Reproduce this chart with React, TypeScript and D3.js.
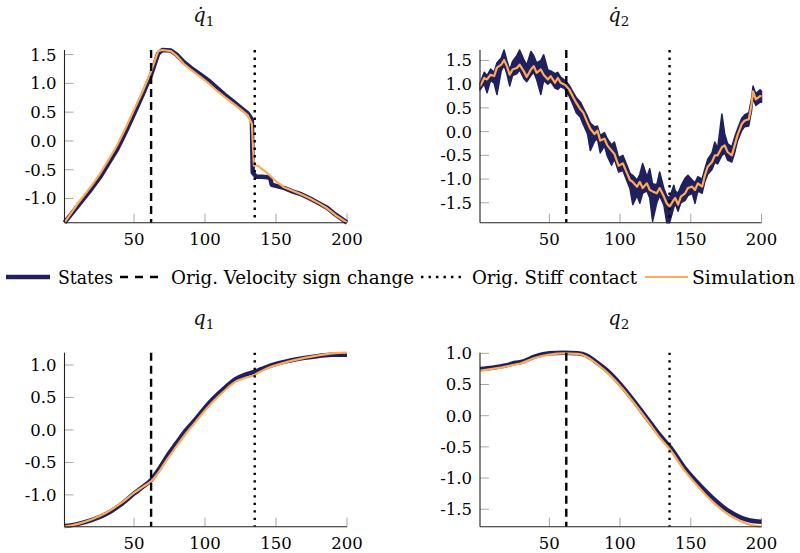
import React, { useEffect, useRef } from 'react';
import * as d3 from 'd3';

// time steps at which the original events happened
const signChangeStep = 62;
const stiffContactStep = 135;
const xTicks = [50, 100, 150, 200];

// q̇1
const dq1StateSteps = [1, 10, 20, 26, 32, 38, 44, 50, 56, 62, 67, 70, 76, 80, 85, 90, 97, 103, 108, 114, 120, 126, 130, 132, 133, 133.6, 136, 140, 144, 146, 147, 150, 156, 162, 168, 174, 180, 186, 192, 200];
const dq1States = [-1.42, -1.14, -0.83, -0.63, -0.39, -0.15, 0.15, 0.47, 0.8, 1.15, 1.52, 1.58, 1.57, 1.5, 1.37, 1.27, 1.15, 1.04, 0.93, 0.8, 0.68, 0.56, 0.48, 0.41, 0.36, -0.55, -0.62, -0.62, -0.63, -0.65, -0.76, -0.78, -0.82, -0.88, -0.93, -1.0, -1.08, -1.16, -1.28, -1.42];
const dq1SimSteps = [1, 10, 20, 26, 32, 38, 44, 50, 56, 62, 67, 70, 76, 80, 85, 90, 97, 103, 108, 114, 120, 126, 130, 133, 134.4, 137, 143, 150, 156, 162, 168, 174, 180, 186, 192, 200];
const dq1Sim = [-1.42, -1.1, -0.78, -0.57, -0.33, -0.08, 0.22, 0.54, 0.86, 1.21, 1.56, 1.58, 1.56, 1.48, 1.34, 1.24, 1.11, 0.99, 0.88, 0.76, 0.65, 0.53, 0.45, 0.3, -0.43, -0.43, -0.54, -0.7, -0.81, -0.87, -0.93, -1.0, -1.08, -1.17, -1.29, -1.42];

// q̇2
const dq2Steps = [1, 4, 6, 8.5, 11, 13, 16, 18, 20, 22, 24, 27, 29, 32, 34, 37, 39, 41, 44, 46, 49, 51, 54, 56, 58, 61, 64, 67, 69, 72, 74, 77, 79, 82, 84, 86, 89, 91, 94, 96, 99, 102, 105, 107, 109, 112, 114, 116, 119, 121, 123, 126, 128, 131, 133, 135, 138, 139, 141, 143, 146, 148, 151, 153, 155, 158, 160, 162, 165, 167, 169, 172, 174, 176, 179, 181, 183, 186, 188, 191, 193, 194, 196, 199, 200];
const dq2Sim = [0.95, 1.13, 1.1, 1.2, 1.17, 1.35, 1.41, 1.51, 1.38, 1.2, 1.31, 1.34, 1.41, 1.27, 1.15, 1.31, 1.38, 1.24, 1.31, 1.2, 1.1, 1.17, 1.03, 1.13, 1.03, 0.99, 0.89, 0.72, 0.61, 0.47, 0.4, 0.19, 0.06, -0.05, 0.02, -0.19, -0.15, -0.29, -0.4, -0.47, -0.72, -0.67, -0.88, -1.02, -1.06, -1.16, -1.06, -1.19, -1.09, -1.23, -1.26, -1.3, -1.19, -1.37, -1.51, -1.58, -1.44, -1.4, -1.54, -1.37, -1.3, -1.19, -1.16, -1.23, -1.09, -1.16, -0.92, -0.74, -0.64, -0.5, -0.5, -0.33, -0.29, -0.43, -0.5, -0.29, -0.08, 0.16, 0.23, 0.26, 0.58, 0.85, 0.68, 0.75, 0.74];
const dq2StatesHigh = [1.02, 1.25, 1.18, 1.32, 1.25, 1.45, 1.55, 1.72, 1.5, 1.3, 1.48, 1.6, 1.72, 1.52, 1.4, 1.69, 1.6, 1.45, 1.5, 1.62, 1.3, 1.28, 1.22, 1.25, 1.15, 1.08, 0.98, 0.82, 0.72, 0.62, 0.5, 0.32, 0.18, 0.1, 0.12, -0.08, -0.02, -0.15, -0.28, -0.22, -0.55, -0.5, -0.72, -0.88, -0.92, -1.02, -0.9, -0.67, -0.95, -0.78, -1.1, -1.12, -0.85, -1.2, -1.35, -1.4, -1.13, -1.25, -1.3, -1.15, -0.98, -0.92, -1.02, -1.08, -0.95, -1.0, -0.78, -0.58, -0.45, -0.22, -0.35, 0.37, -0.05, -0.25, -0.32, -0.12, 0.05, 0.28, 0.35, 0.4, 0.7, 0.96, 0.8, 0.88, 0.85];
const dq2StatesLow = [0.88, 1.0, 0.82, 1.08, 1.02, 0.78, 1.28, 1.4, 1.22, 0.96, 1.18, 1.22, 1.3, 1.12, 1.05, 1.18, 1.25, 1.1, 0.78, 1.08, 1.0, 1.05, 0.92, 0.89, 0.95, 0.9, 0.75, 0.55, 0.4, 0.3, 0.15, -0.05, -0.4, -0.2, -0.15, -0.45, -0.3, -0.52, -0.71, -0.58, -0.85, -0.82, -1.05, -1.2, -1.54, -1.35, -1.51, -1.3, -1.25, -1.4, -1.89, -1.5, -1.35, -1.55, -1.92, -1.92, -1.6, -1.52, -1.68, -1.5, -1.45, -1.35, -1.3, -1.51, -1.25, -1.3, -1.05, -0.9, -0.8, -0.65, -0.68, -0.5, -0.45, -0.6, -0.64, -0.45, -0.2, 0.02, 0.1, 0.12, 0.45, 0.7, 0.55, 0.62, 0.62];

// q1
const q1Steps = [1, 10, 20, 30, 40, 50, 56, 62, 68, 74, 80, 86, 92, 98, 104, 110, 116, 122, 128, 134, 140, 146, 152, 160, 170, 180, 190, 200];
const q1States = [-1.48, -1.45, -1.39, -1.3, -1.16, -0.98, -0.88, -0.77, -0.59, -0.38, -0.2, -0.02, 0.13, 0.29, 0.44, 0.57, 0.69, 0.79, 0.85, 0.89, 0.94, 0.99, 1.03, 1.07, 1.11, 1.14, 1.16, 1.16];
const q1Sim = [-1.49, -1.45, -1.38, -1.28, -1.14, -0.97, -0.88, -0.79, -0.63, -0.43, -0.25, -0.07, 0.09, 0.25, 0.4, 0.53, 0.65, 0.75, 0.8, 0.84, 0.91, 0.97, 1.01, 1.06, 1.11, 1.15, 1.18, 1.19];

// q2
const q2Steps = [1, 10, 20, 26, 30, 40, 50, 60, 70, 76, 82, 90, 100, 110, 120, 128, 136, 145, 155, 165, 175, 185, 192, 200];
const q2States = [0.75, 0.77, 0.81, 0.85, 0.86, 0.95, 1.0, 1.01, 1.0, 0.97, 0.88, 0.74, 0.51, 0.23, -0.07, -0.31, -0.52, -0.82, -1.08, -1.31, -1.5, -1.63, -1.68, -1.7];
const q2Sim = [0.72, 0.75, 0.79, 0.82, 0.84, 0.93, 0.98, 1.0, 0.99, 0.95, 0.86, 0.71, 0.48, 0.2, -0.1, -0.35, -0.56, -0.86, -1.13, -1.37, -1.56, -1.69, -1.75, -1.78];

const legendLabels = ['States', 'Orig. Velocity sign change', 'Orig. Stiff contact', 'Simulation'];

const NAVY = '#20205f';
const ORANGE = '#ffaa55';
const FONT = "'DejaVu Serif', serif";

interface Panel {
  dot: boolean;
  sub: string;
  left: number;
  right: number;
  top: number;
  bottom: number;
  titleY: number;
  smooth: boolean;
  yTicks: number[];
  stateSteps: number[];
  states: number[];
  stateLow?: number[];
  simSteps: number[];
  sim: number[];
}

const panels: Panel[] = [
  { dot: true, sub: '1', left: 64.5, right: 347, top: 50, bottom: 222.7, titleY: 22, smooth: false, yTicks: [-1, -0.5, 0, 0.5, 1, 1.5],
    stateSteps: dq1StateSteps, states: dq1States, simSteps: dq1SimSteps, sim: dq1Sim },
  { dot: true, sub: '2', left: 480, right: 761.5, top: 50, bottom: 222.7, titleY: 22, smooth: false, yTicks: [-1.5, -1, -0.5, 0, 0.5, 1, 1.5],
    stateSteps: dq2Steps, states: dq2StatesHigh, stateLow: dq2StatesLow, simSteps: dq2Steps, sim: dq2Sim },
  { dot: false, sub: '1', left: 64.5, right: 347, top: 352.7, bottom: 526.7, titleY: 325, smooth: true, yTicks: [-1, -0.5, 0, 0.5, 1],
    stateSteps: q1Steps, states: q1States, simSteps: q1Steps, sim: q1Sim },
  { dot: false, sub: '2', left: 480, right: 761.5, top: 352.7, bottom: 526.7, titleY: 325, smooth: true, yTicks: [-1.5, -1, -0.5, 0, 0.5, 1],
    stateSteps: q2Steps, states: q2States, simSteps: q2Steps, sim: q2Sim },
];

const fmt = (v: number) => (Math.abs(v) < 1e-9 ? 0 : v).toFixed(1);

const App: React.FC = () => {
  const ref = useRef<SVGSVGElement | null>(null);

  useEffect(() => {
    const svg = d3.select(ref.current);
    svg.selectAll('*').remove();

    panels.forEach(p => {
      const g = svg.append('g');
      const all = [...p.states, ...p.sim, ...(p.stateLow || [])];
      const [lo, hi] = d3.extent(all) as [number, number];
      const x = d3.scaleLinear().domain([1, 200]).range([p.left, p.right]);
      const y = d3.scaleLinear().domain([lo, hi]).range([p.bottom, p.top]);
      const curve = p.smooth ? d3.curveMonotoneX : d3.curveLinear;

      // ticks (inside)
      g.selectAll('.yt').data(p.yTicks).enter().append('line')
        .attr('x1', p.left).attr('x2', p.left + 9)
        .attr('y1', d => y(d)).attr('y2', d => y(d))
        .attr('stroke', '#a8a8a8').attr('stroke-width', 1);
      g.selectAll('.xt').data(xTicks).enter().append('line')
        .attr('x1', d => x(d)).attr('x2', d => x(d))
        .attr('y1', p.bottom).attr('y2', p.bottom - 9)
        .attr('stroke', '#a8a8a8').attr('stroke-width', 1);

      // tick labels
      g.selectAll('.yl').data(p.yTicks).enter().append('text')
        .attr('x', p.left - 8).attr('y', d => y(d)).attr('dy', '0.36em')
        .attr('text-anchor', 'end').attr('font-family', FONT).attr('font-size', 16.5)
        .attr('fill', '#000').text(d => fmt(d));
      g.selectAll('.xl').data(xTicks).enter().append('text')
        .attr('x', d => x(d)).attr('y', p.bottom + 22)
        .attr('text-anchor', 'middle').attr('font-family', FONT).attr('font-size', 16.5)
        .attr('fill', '#000').text(d => String(d));

      // states
      if (p.stateLow) {
        const low = p.stateLow;
        const area = d3.area<number>()
          .x((_, i) => x(p.stateSteps[i]))
          .y0((_, i) => y(low[i]))
          .y1(d => y(d));
        g.append('path').attr('d', area(p.states) || '')
          .attr('fill', NAVY).attr('stroke', NAVY).attr('stroke-width', 1.5)
          .attr('stroke-linejoin', 'round');
      } else {
        const line = d3.line<number>().x((_, i) => x(p.stateSteps[i])).y(d => y(d)).curve(curve);
        g.append('path').attr('d', line(p.states) || '')
          .attr('fill', 'none').attr('stroke', NAVY).attr('stroke-width', 4.5)
          .attr('stroke-linejoin', 'round');
      }

      // simulation
      const simLine = d3.line<number>().x((_, i) => x(p.simSteps[i])).y(d => y(d)).curve(curve);
      g.append('path').attr('d', simLine(p.sim) || '')
        .attr('fill', 'none').attr('stroke', ORANGE).attr('stroke-width', 2.2)
        .attr('stroke-linejoin', 'round');

      // event markers
      g.append('line')
        .attr('x1', x(signChangeStep)).attr('x2', x(signChangeStep))
        .attr('y1', p.top).attr('y2', p.bottom)
        .attr('stroke', '#000').attr('stroke-width', 2.4).attr('stroke-dasharray', '8,5');
      g.append('line')
        .attr('x1', x(stiffContactStep)).attr('x2', x(stiffContactStep))
        .attr('y1', p.top).attr('y2', p.bottom)
        .attr('stroke', '#000').attr('stroke-width', 2.4).attr('stroke-dasharray', '2.4,5.1');

      // axis lines
      g.append('line').attr('x1', p.left).attr('x2', p.left).attr('y1', p.top).attr('y2', p.bottom)
        .attr('stroke', '#222').attr('stroke-width', 1.1);
      g.append('line').attr('x1', p.left).attr('x2', p.right).attr('y1', p.bottom).attr('y2', p.bottom)
        .attr('stroke', '#222').attr('stroke-width', 1.1);

      // title
      const t = g.append('text')
        .attr('x', (p.left + p.right) / 2 - 2).attr('y', p.titleY)
        .attr('text-anchor', 'middle').attr('font-family', FONT).attr('fill', '#111');
      t.append('tspan').attr('font-style', 'italic').attr('font-size', 19.5)
        .text(p.dot ? 'q\u0307' : 'q');
      t.append('tspan').attr('font-size', 13.5).attr('dy', 4).text(p.sub);
    });

    // legend
    const ly = 277;
    const lg = svg.append('g');
    lg.append('line').attr('x1', 6).attr('x2', 50).attr('y1', ly).attr('y2', ly)
      .attr('stroke', NAVY).attr('stroke-width', 4.5);
    lg.append('line').attr('x1', 120).attr('x2', 158).attr('y1', ly).attr('y2', ly)
      .attr('stroke', '#000').attr('stroke-width', 2.4).attr('stroke-dasharray', '8,7');
    lg.append('line').attr('x1', 421).attr('x2', 466).attr('y1', ly).attr('y2', ly)
      .attr('stroke', '#000').attr('stroke-width', 2.4).attr('stroke-dasharray', '2.4,5.1');
    lg.append('line').attr('x1', 645).attr('x2', 688).attr('y1', ly).attr('y2', ly)
      .attr('stroke', ORANGE).attr('stroke-width', 2.2);
    const labelPos = [[58, 55], [171, 243], [472, 165], [692, 103]];
    legendLabels.forEach((lab, i) => {
      lg.append('text').attr('x', labelPos[i][0]).attr('y', ly + 6.5)
        .attr('font-family', FONT).attr('font-size', 18.5).attr('fill', '#000')
        .attr('textLength', labelPos[i][1]).attr('lengthAdjust', 'spacingAndGlyphs')
        .text(lab);
    });
  }, []);

  return (
    <svg ref={ref} width={800} height={553}
      style={{ position: 'absolute', left: 0, top: 0, background: '#fff' }} />
  );
};

export default App;
